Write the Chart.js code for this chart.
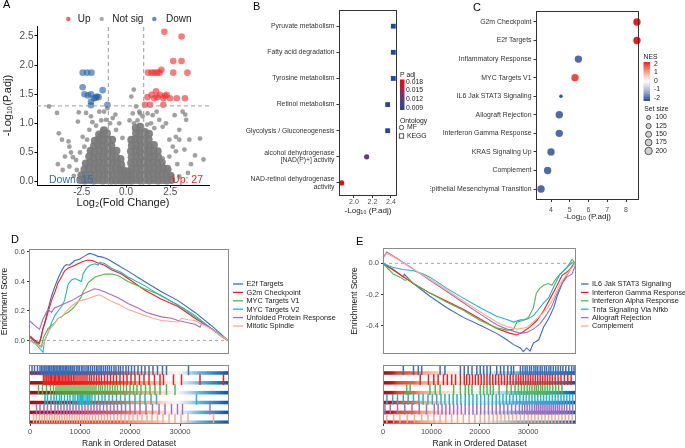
<!DOCTYPE html>
<html>
<head>
<meta charset="utf-8">
<script src="https://cdn.jsdelivr.net/npm/chart.js@4.4.1/dist/chart.umd.min.js"></script>
<style>
html,body{margin:0;padding:0;background:#fff;}
#fig{position:relative;width:685px;height:448px;overflow:hidden;background:#fff;}
#fig canvas{position:absolute;}
.tag{position:absolute;font:11px 'Liberation Sans',Arial,sans-serif;color:#000;line-height:1;}
</style>
</head>
<body>
<div id="fig">
<canvas id="cA" width="215" height="212" style="left:0px;top:0px"></canvas>
<canvas id="cB" width="225" height="220" style="left:205px;top:0px"></canvas>
<canvas id="cC" width="255" height="222" style="left:430px;top:0px"></canvas>
<canvas id="cD1" width="345" height="135" style="left:0px;top:225px"></canvas>
<canvas id="cD2" width="345" height="90" style="left:0px;top:358px"></canvas>
<canvas id="cE1" width="345" height="135" style="left:340px;top:225px"></canvas>
<canvas id="cE2" width="345" height="90" style="left:340px;top:358px"></canvas>
<div class="tag" style="left:3px;top:-1px">A</div>
<div class="tag" style="left:253px;top:1px">B</div>
<div class="tag" style="left:473px;top:2px">C</div>
<div class="tag" style="left:11px;top:234px">D</div>
<div class="tag" style="left:356px;top:236px">E</div>
</div>
<script>
// ===================== DATA =====================
// Panel A: volcano (log2 fold change, -log10 adj p) — dense body of non-significant genes
const volcNotSigCore = [
 [-2.58,0.03],[-2.52,0.11],
 [-2.33,0.02],[-2.28,0.12],[-2.35,0.21],[-2.27,0.31],
 [-2.07,0.03],[-2.02,0.13],[-2.1,0.22],[-2.03,0.33],[-2.08,0.43],[-2.0,0.53],
 [-1.82,0.02],[-1.78,0.11],[-1.84,0.21],[-1.77,0.31],[-1.83,0.41],[-1.79,0.51],[-1.81,0.61],[-1.76,0.7],
 [-1.57,0.03],[-1.52,0.13],[-1.58,0.23],[-1.53,0.33],[-1.56,0.43],[-1.51,0.53],[-1.58,0.63],[-1.54,0.73],[-1.52,0.81],
 [-1.32,0.02],[-1.27,0.12],[-1.33,0.22],[-1.28,0.32],[-1.31,0.42],[-1.26,0.52],[-1.33,0.62],[-1.29,0.72],[-1.31,0.82],[-1.25,0.88],
 [-1.07,0.03],[-1.03,0.13],[-1.08,0.23],[-1.02,0.33],[-1.06,0.43],[-1.01,0.53],[-1.07,0.63],[-1.04,0.73],[-1.08,0.83],
 [-0.82,0.02],[-0.78,0.12],[-0.83,0.22],[-0.77,0.32],[-0.81,0.42],[-0.79,0.52],[-0.83,0.62],[-0.78,0.72],
 [-0.57,0.02],[-0.53,0.12],[-0.58,0.22],[-0.52,0.32],[-0.56,0.42],[-0.54,0.53],
 [-0.32,0.02],[-0.28,0.11],[-0.33,0.2],[-0.27,0.29],[-0.31,0.39],
 [-0.14,0.02],[-0.1,0.1],[-0.15,0.19],
 [0.1,0.02],[0.14,0.1],[0.12,0.18],
 [0.31,0.02],[0.28,0.12],[0.33,0.22],[0.29,0.32],[0.32,0.42],[0.28,0.52],[0.33,0.62],[0.3,0.72],
 [0.56,0.03],[0.53,0.13],[0.58,0.23],[0.52,0.33],[0.57,0.43],[0.54,0.53],[0.58,0.63],[0.53,0.73],[0.57,0.83],[0.55,0.92],
 [0.81,0.02],[0.78,0.12],[0.83,0.22],[0.77,0.32],[0.82,0.42],[0.79,0.52],[0.83,0.62],[0.78,0.72],[0.81,0.82],[0.8,0.94],
 [1.06,0.03],[1.03,0.13],[1.08,0.23],[1.02,0.33],[1.07,0.43],[1.04,0.53],[1.08,0.63],[1.03,0.73],[1.06,0.85],
 [1.31,0.02],[1.28,0.12],[1.33,0.22],[1.27,0.32],[1.32,0.42],[1.29,0.52],[1.33,0.62],[1.28,0.72],[1.3,0.82],
 [1.56,0.03],[1.53,0.13],[1.58,0.23],[1.52,0.33],[1.57,0.43],[1.54,0.53],[1.58,0.63],
 [1.81,0.02],[1.78,0.12],[1.83,0.22],[1.77,0.32],[1.82,0.42],[1.79,0.52],
 [2.06,0.03],[2.03,0.13],[2.08,0.23],[2.02,0.33],
 [2.31,0.02],[2.28,0.12],[2.33,0.22],
 [2.56,0.03],[2.52,0.1]
];
// scattered non-significant genes
const volcNotSig = [
 [-4.35,1.29],[-3.9,1.18],[-3.8,0.83],[-3.62,0.72],[-3.25,0.69],[-3.2,0.6],[-3.45,0.43],[-3.11,0.5],[-3.0,0.42],
 [-2.82,0.37],[-3.2,0.26],[-3.58,0.2],[-2.78,0.2],[-2.67,1.19],[-2.72,1.03],[-2.26,1.18],[-1.98,1.12],[-1.51,1.2],
 [-1.24,1.2],[-1.05,1.26],[-1.69,0.96],[-2.07,0.89],[-2.45,0.77],[-2.35,0.6],[-2.6,0.5],[-1.13,1.06],[-0.75,1.09],
 [-0.38,1.0],[-0.56,0.89],[-0.2,0.75],[-0.9,1.0],[-1.4,1.05],[-1.9,1.02],[-2.2,0.72],[-0.6,1.15],[-3.85,0.3],[-2.95,0.1],
 [0.44,1.58],[0.3,1.46],[0.38,1.17],[0.57,1.29],[0.75,1.2],[0.94,1.12],[0.2,1.05],[0.45,1.0],[0.65,1.05],[1.22,1.17],
 [1.51,1.14],[1.88,1.06],[1.41,1.0],[2.07,0.94],[2.26,1.0],[1.6,0.92],[1.2,0.98],[3.2,1.2],[3.35,1.15],[3.01,0.89],
 [2.82,0.77],[2.45,0.72],[2.64,0.6],[3.01,0.72],[3.58,0.72],[2.45,0.43],[2.82,0.52],[2.07,0.4],[3.67,0.3],[2.45,0.2],
 [3.01,0.09],[4.18,0.74],[4.38,0.38],[3.9,0.45],[3.3,0.55],[2.9,0.3],[3.5,0.15],[2.75,1.14],[3.4,1.06],[1.73,1.2],[0.79,1.17]
];
const volcUp = [
 [2.17,2.57],[3.14,2.49],[2.67,2.07],[3.14,2.07],[2.0,1.92],[1.25,1.87],[1.45,1.87],[1.6,1.87],[1.75,1.87],
 [1.9,1.87],[2.67,1.87],[3.47,1.87],[1.21,1.45],[1.45,1.49],[1.6,1.43],[1.77,1.45],[1.92,1.49],[2.11,1.43],
 [2.3,1.49],[2.49,1.43],[2.87,1.43],[3.33,1.43],[1.07,1.32],[1.36,1.32],[2.11,1.32],[1.7,1.55],[2.2,1.47]
];
const volcDown = [
 [-2.45,1.87],[-2.2,1.87],[-1.95,1.87],[-2.45,1.62],[-2.35,1.5],[-2.15,1.48],[-1.98,1.5],[-1.8,1.43],
 [-1.65,1.46],[-1.55,1.45],[-1.32,1.57],[-1.98,1.37],[-1.98,1.31],[-1.05,1.32],[-1.72,1.44]
];
const volcXTicks = [-2.5, 0, 2.5];
const volcYTicks = [0, 0.5, 1, 1.5, 2, 2.5];
const fcCutoff = 1;
const padjCutoff = 1.3;

// Panel B: enrichment (KEGG / MF)
const bTerms = ['Pyruvate metabolism','Fatty acid degradation','Tyrosine metabolism','Retinol metabolism',
  'Glycolysis / Gluconeogenesis',['alcohol dehydrogenase','[NAD(P)+] activity'],['NAD-retinol dehydrogenase','activity']];
const bLogP = [2.425, 2.425, 2.425, 2.364, 2.364, 2.137, 1.867];
const bPadj = [0.0084, 0.0084, 0.0084, 0.0092, 0.0092, 0.0125, 0.0185];
const bOntology = ['KEGG','KEGG','KEGG','KEGG','KEGG','MF','MF'];
const bXTicks = [2.0, 2.2, 2.4];
const bPadjTicks = [0.018, 0.015, 0.012, 0.009];

// Panel C: hallmark GSEA
const cTerms = ['G2m Checkpoint','E2f Targets','Inflammatory Response','MYC Targets V1','IL6 Jak STAT3 Signaling',
  'Allograft Rejection','Interferon Gamma Response','KRAS Signaling Up','Complement','Epithelial Mesenchymal Transition'];
const cLogP = [8.58, 8.58, 5.46, 5.28, 4.53, 4.44, 4.44, 4.0, 3.82, 3.47];
const cNES = [2.3, 2.3, -2.0, 1.9, -2.3, -2.0, -2.0, -2.0, -2.0, -2.0];
const cSetSize = [200, 200, 200, 200, 87, 200, 200, 200, 200, 200];
const cXTicks = [4, 5, 6, 7, 8];
const cNesTicks = [2, 1, 0, -1, -2];
const cSizeTicks = [100, 125, 150, 175, 200];

// Panels D/E: running enrichment scores [rank, ES]
const rankTicks = [0, 10000, 20000, 30000];
const dNames = ['E2f Targets','G2m Checkpoint','MYC Targets V1','MYC Targets V2','Unfolded Protein Response','Mitotic Spindle'];
const dEsE2f = [[0,0.02],[700,0.0],[1600,-0.02],[2000,0.0],[2600,0.08],[3100,0.14],[3600,0.21],[4300,0.30],[4900,0.36],[5600,0.42],[6300,0.47],[6800,0.50],[7300,0.515],[7900,0.51],[8400,0.525],[8900,0.54],[9900,0.55],[10600,0.565],[11300,0.58],[11900,0.59],[12600,0.585],[13600,0.57],[14500,0.565],[15600,0.55],[17600,0.51],[19600,0.47],[22900,0.40],[26300,0.33],[29600,0.27],[33000,0.19],[36300,0.10],[39600,0.0]];
const dEsG2m = [[0,0.03],[1000,0.0],[1900,-0.02],[2300,0.03],[2600,0.08],[3000,0.12],[3600,0.19],[4300,0.27],[5000,0.33],[5600,0.39],[6300,0.43],[6900,0.47],[7600,0.49],[8300,0.50],[9000,0.51],[9600,0.52],[10600,0.535],[11600,0.545],[12600,0.54],[13600,0.525],[14900,0.51],[16300,0.48],[18300,0.45],[19600,0.42],[23000,0.34],[26300,0.28],[29600,0.23],[33000,0.15],[36300,0.08],[38600,0.02],[39600,0.0]];
const dEsMycV1 = [[0,0.0],[1300,-0.02],[2300,-0.04],[2700,0.02],[3600,0.08],[4300,0.10],[5000,0.12],[5600,0.15],[6300,0.16],[7000,0.18],[7600,0.19],[8300,0.21],[8900,0.23],[9600,0.26],[10300,0.30],[10600,0.33],[11200,0.36],[11600,0.39],[12300,0.41],[13000,0.43],[14000,0.44],[15000,0.45],[16300,0.45],[17600,0.44],[19600,0.40],[22900,0.35],[26000,0.31],[28000,0.27],[30600,0.22],[33000,0.17],[36300,0.08],[39600,0.0]];
const dEsMycV2 = [[0,0.0],[1300,-0.03],[2600,-0.08],[2900,0.0],[3600,0.05],[4300,0.12],[5000,0.17],[5600,0.20],[6300,0.23],[6900,0.27],[7300,0.33],[7600,0.38],[8300,0.41],[9000,0.42],[9600,0.41],[10300,0.40],[10600,0.45],[11300,0.49],[12000,0.51],[13000,0.52],[13600,0.51],[14000,0.53],[15000,0.52],[16300,0.49],[18300,0.46],[19600,0.43],[23000,0.37],[26300,0.30],[29600,0.24],[33000,0.16],[36300,0.08],[39600,0.0]];
const dEsUpr = [[0,0.13],[1000,0.10],[1900,0.075],[2600,0.145],[3600,0.21],[4300,0.19],[4900,0.22],[6300,0.24],[8300,0.27],[10900,0.32],[12900,0.35],[13600,0.345],[14900,0.33],[17600,0.29],[19600,0.25],[21600,0.22],[23300,0.19],[26300,0.16],[28300,0.15],[29600,0.135],[31600,0.12],[33000,0.11],[34000,0.09],[34400,0.12],[35500,0.10],[37000,0.06],[39600,0.0]];
const dEsMitotic = [[0,0.0],[1300,-0.03],[2300,-0.05],[3000,0.0],[3600,0.06],[4600,0.10],[5600,0.15],[6600,0.17],[7600,0.21],[8600,0.24],[9600,0.265],[11300,0.28],[12900,0.30],[13900,0.31],[15000,0.29],[16300,0.265],[18000,0.24],[19600,0.21],[21300,0.19],[22900,0.17],[24600,0.15],[26300,0.135],[28000,0.13],[29600,0.125],[30300,0.15],[31600,0.14],[33000,0.135],[34300,0.11],[35600,0.09],[37000,0.06],[39600,0.0]];
const dYTicks = [0, 0.2, 0.4, 0.6];
// gene-set hit positions (rank)
const dHitsE2f = [400,900,1500,2000,2300,2600,2900,3200,3400,3700,3900,4200,4400,4700,4900,5200,5400,5600,5900,6100,6400,6600,6800,7100,7300,7600,7800,8100,8400,8600,8900,9300,9600,9900,10300,10600,11000,11400,11700,12100,12500,12900,13300,13600,14000,14300,14700,15100,15500,15900,16300,16800,17200,17700,18100,18600,19200,19700,20300,20900,21600,22300,23000,23800,24600,25500,26500,27300,31700];
const dHitsG2m = [2700,3000,3300,3600,3800,4100,4300,4600,4900,5100,5400,5700,5900,6200,6500,6800,7100,7400,7700,8000,8300,8700,9000,9400,9800,10200,10600,11000,11400,11900,12300,12800,13300,13800,14300,14900,15500,16100,16700,17300,18000,18700,19400,20200,21000,21900,22800,23800,24900,26000,26700,28700,30300,34000,38700];
const dHitsMycV1 = [1700,2500,3300,4100,4700,5200,5600,6000,6400,6800,7200,7600,8000,8400,8800,9200,9600,10000,10400,10800,11200,11600,12000,12400,12800,13200,13700,14100,14500,15000,15500,16000,16500,17000,17500,18100,18700,19300,20000,20700,21400,22200,23100,24000,25000,26000,27300,29000];
const dHitsMycV2 = [3000,3500,4200,4800,5300,5900,6300,6900,7500,8000,8600,9000,9500,9800,10100,10300,10500,10800,11200,11500,11800,12000,12400,13000,13700,14400,15000,15800,16500,17300,18100,19000,19900,21000,22000,23000,24200,25300,33300];
const dHitsUpr = [1300,2000,2800,3500,4200,5000,5600,6200,6800,7400,8000,8600,9200,9800,10400,11000,11600,12200,12800,13400,14000,14700,15400,16100,16800,17500,18300,19100,20000,21000,22000,23200,24500,25800,27000,28300,29500,30500,36000];
const dHitsMitotic = [700,1300,1900,2400,2900,3400,3900,4400,4900,5400,5900,6400,6900,7400,7900,8400,8900,9400,9900,10400,10900,11400,11900,12500,13100,13700,14300,14900,15500,16100,16800,17500,18200,19000,19800,20600,21500,22400,23400,24400,25500,26600,27800,29000,30200,31600,36700];

const eNames = ['IL6 Jak STAT3 Signaling','Interferon Gamma Response','Interferon Alpha Response','Tnfa Signaling Via Nfkb','Allograft Rejection','Complement'];
const eEsIl6 = [[0,-0.006],[2100,-0.037],[4200,-0.088],[4400,-0.07],[6300,-0.129],[9700,-0.21],[13200,-0.283],[16600,-0.345],[20100,-0.396],[23500,-0.447],[25600,-0.488],[27000,-0.519],[28400,-0.54],[29000,-0.564],[29700,-0.54],[30400,-0.56],[31100,-0.509],[32200,-0.488],[33200,-0.406],[34200,-0.355],[35300,-0.283],[36000,-0.21],[37300,-0.109],[38400,-0.057],[39100,-0.016],[39700,0.004]];
const eEsIfng = [[0,0.0],[2800,-0.057],[6300,-0.129],[9700,-0.19],[13200,-0.242],[16600,-0.293],[20100,-0.355],[23500,-0.416],[26300,-0.447],[27700,-0.457],[29000,-0.437],[30400,-0.406],[31800,-0.365],[33200,-0.303],[34600,-0.222],[36000,-0.14],[37000,-0.078],[38400,-0.047],[39700,0.0]];
const eEsIfna = [[0,0.0],[2100,-0.068],[3500,-0.088],[4600,-0.109],[5200,-0.098],[6300,-0.129],[9700,-0.19],[13200,-0.248],[16600,-0.30],[20100,-0.365],[23500,-0.412],[25600,-0.426],[27000,-0.42],[27700,-0.375],[29000,-0.365],[30100,-0.344],[31100,-0.283],[31700,-0.19],[32400,-0.16],[33200,-0.14],[34200,-0.129],[34900,-0.14],[36000,-0.088],[37000,-0.057],[38000,-0.027],[39100,0.025],[39700,0.0]];
const eEsTnfa = [[0,0.0],[2100,-0.027],[4200,-0.039],[6300,-0.047],[8300,-0.068],[9700,-0.088],[13200,-0.16],[16600,-0.222],[20100,-0.283],[23500,-0.338],[25600,-0.359],[27000,-0.375],[28400,-0.361],[29700,-0.359],[31100,-0.334],[32200,-0.293],[33200,-0.252],[34200,-0.222],[35300,-0.15],[36600,-0.068],[38000,-0.027],[39100,0.004],[39700,0.0]];
const eEsAllograft = [[0,0.035],[760,0.072],[2800,0.035],[6300,-0.037],[9700,-0.109],[13200,-0.18],[16600,-0.252],[20100,-0.324],[23500,-0.392],[25600,-0.42],[28400,-0.447],[29700,-0.441],[31100,-0.42],[32500,-0.385],[33900,-0.324],[34900,-0.273],[36000,-0.19],[37000,-0.129],[38000,-0.088],[39100,-0.068],[39700,-0.016]];
const eEsComplement = [[0,0.03],[760,0.065],[2800,0.03],[6300,-0.04],[9700,-0.10],[13200,-0.17],[16600,-0.24],[20100,-0.31],[23500,-0.375],[25600,-0.405],[27700,-0.42],[29700,-0.41],[31800,-0.355],[33900,-0.29],[35300,-0.22],[36600,-0.13],[38000,-0.07],[39700,0.0]];
const eYTicks = [0, -0.2, -0.4];
const eHitsIl6 = [4200,6300,7300,8000,11800,12800,16000,16800,17600,18400,19400,20100,20800,21500,22200,23500,24300,25000,25800,26500,27000,28400,28900,29400,29800,30300,30700,31200,31600,32000,32500,32900,33400,33800,34300,34700,35200,35700,36200,36700,37200,37800,38400,39000,39500];
const eHitsIfng = [7700,9400,10500,11400,12500,13300,14200,15000,16000,16800,17300,17900,18500,19100,19700,20300,20900,21500,22100,22700,23300,23900,24500,25100,25700,26300,26900,27500,28000,28500,29000,29500,30000,30500,31000,31500,32000,32500,33000,33500,34000,34500,35000,35600,36200,36800,37500,38200,38900];
const eHitsIfna = [4900,5600,9700,10800,11800,14600,16000,17000,17700,18400,20100,20800,21500,22200,22800,24000,25600,26500,27300,28000,28600,29200,29800,30300,30800,31300,31700,32100,32600,33000,33500,34000,34500,35100,35700,36300,37000];
const eHitsTnfa = [800,2000,3000,4200,5200,6300,7400,8300,9300,10200,11100,12000,12800,13700,14500,15300,16100,17000,17800,18600,19400,20200,21000,21800,22600,23400,24100,24800,25500,26200,26900,27600,28300,29000,29600,30200,30800,31400,32000,32600,33200,33800,34400,35000,35600,36200,36800,37400,38000,38600,39200];
const eHitsAllograft = [400,1500,3000,4500,6000,7500,9000,10600,11400,12200,13000,13800,14600,15400,16200,17000,17800,18600,19400,20200,21000,21800,22600,23400,24200,25000,25800,26600,27400,28200,28800,29300,29800,30300,30800,31300,31700,32100,32500,32900,33300,33700,34100,34500,34900,35300,35700,36100,36500,37000,37500,38000,38600,39200];
const eHitsComplement = [800,2200,3500,5000,6500,8000,9300,10500,11800,13000,14200,15400,16600,17800,19000,20100,21000,21900,22800,23600,24400,25200,26000,26800,27600,28400,29200,30000,30700,31400,32100,32800,33500,34200,34900,35600,36300,37000,37700,38400,39100];

// ===================== STYLE / HELPERS =====================
const FONT = "'Liberation Sans', Arial, Helvetica, sans-serif";
Chart.defaults.font.family = FONT;
Chart.defaults.color = '#4d4d4d';
Chart.defaults.animation = false;
Chart.defaults.responsive = false;
Chart.defaults.maintainAspectRatio = false;
Chart.defaults.events = [];
Chart.defaults.plugins.legend.display = false;
Chart.defaults.plugins.tooltip.enabled = false;

const setColors = ['#3a6db5','#f01f1f','#52b848','#25b2cf','#a56cc1','#fcab8a'];
const pts = arr => arr.map(p => ({x: p[0], y: p[1]}));
const fixW = w => s => { s.width = w; };
const fixH = h => s => { s.height = h; };
const useTicks = vals => s => { s.ticks = vals.map(v => ({value: v})); };

function axis(o) {
  return {
    type: 'linear', min: o.min, max: o.max, reverse: !!o.reverse, display: o.display !== false,
    afterFit: o.fit, afterBuildTicks: o.at ? useTicks(o.at) : undefined,
    grid: {drawOnChartArea: false, drawTicks: true, tickLength: o.tl ?? 2.5, color: o.lc || '#333', lineWidth: 1},
    border: {display: o.border !== false, color: o.lc || '#333', width: 1},
    ticks: {autoSkip: false, maxRotation: 0, minRotation: 0, padding: o.pad ?? 1, color: o.tcol || '#4d4d4d',
            font: {size: o.fs, lineHeight: o.lh || 1.1}, callback: o.cb},
    title: o.title ? {display: true, text: o.title, color: '#1a1a1a', font: {size: o.tfs, lineHeight: o.tlh || 1.2}, padding: o.tpad || 0} : {display: false}
  };
}
function frame(id, color) {
  return {id, afterDatasetsDraw(c) {
    const a = c.chartArea, g = c.ctx;
    g.save(); g.strokeStyle = color; g.lineWidth = 1;
    g.strokeRect(Math.round(a.left) + 0.5, Math.round(a.top) + 0.5, Math.round(a.right - a.left) - 1, Math.round(a.bottom - a.top) - 1);
    g.restore();
  }};
}
function lerpStops(stops, t) {
  t = Math.max(0, Math.min(1, t));
  for (let i = 1; i < stops.length; i++) {
    if (t <= stops[i][0]) {
      const [t0, c0] = stops[i - 1], [t1, c1] = stops[i];
      const u = (t - t0) / (t1 - t0);
      return 'rgb(' + c0.map((v, k) => Math.round(v + (c1[k] - v) * u)).join(',') + ')';
    }
  }
  return 'rgb(' + stops[stops.length - 1][1].join(',') + ')';
}
const padjStops = [[0,[28,72,160]],[0.5,[115,55,115]],[1,[255,0,0]]];
const padjLo = 0.0082, padjHi = 0.0188;
const padjColor = p => lerpStops(padjStops, (p - padjLo) / (padjHi - padjLo));
const nesPos = [[0,[255,255,255]],[0.5,[246,150,120]],[1,[230,20,20]]];
const nesNeg = [[0,[255,255,255]],[0.5,[160,175,210]],[1,[25,60,140]]];
const nesColor = n => n >= 0 ? lerpStops(nesPos, n / 2.4) : lerpStops(nesNeg, -n / 2.5);
const sizeR = s => 3.7 * Math.sqrt(Math.max(0, s - 55) / 145);

// ===================== PANEL A =====================
const aX = {min: -5.03, max: 4.69}, aY = {min: -0.057, max: 2.67};
new Chart(document.getElementById('cA'), {
  type: 'scatter',
  data: {datasets: [
    {label: 'vl', data: [{x: -fcCutoff, y: aY.min}, {x: -fcCutoff, y: aY.max}], showLine: true, borderColor: '#9a9a9a', borderWidth: 1, borderDash: [4, 3], pointRadius: 0, order: 0},
    {label: 'vr', data: [{x: fcCutoff, y: aY.min}, {x: fcCutoff, y: aY.max}], showLine: true, borderColor: '#9a9a9a', borderWidth: 1, borderDash: [4, 3], pointRadius: 0, order: 0},
    {label: 'h', data: [{x: aX.min, y: padjCutoff}, {x: aX.max, y: padjCutoff}], showLine: true, borderColor: '#9a9a9a', borderWidth: 1, borderDash: [4, 3], pointRadius: 0, order: 0},
    {label: 'Up', data: pts(volcUp), pointRadius: 3.3, pointBackgroundColor: 'rgba(240,45,45,0.62)', pointBorderWidth: 0, order: 1},
    {label: 'Down', data: pts(volcDown), pointRadius: 3.3, pointBackgroundColor: 'rgba(35,95,170,0.62)', pointBorderWidth: 0, order: 1},
    {label: 'Not sig', data: pts(volcNotSig), pointRadius: 2.4, pointBackgroundColor: 'rgba(125,125,125,0.72)', pointBorderWidth: 0, order: 2},
    {label: 'Not sig (dense)', data: pts(volcNotSigCore), pointRadius: 4.0, pointBackgroundColor: 'rgba(122,122,122,0.92)', pointBorderWidth: 0, order: 3}
  ]},
  options: {
    layout: {padding: {left: 0, top: 26, right: 6, bottom: 0}},
    scales: {
      x: axis({min: aX.min, max: aX.max, at: volcXTicks, fit: fixH(27), fs: 10, lh: 1, pad: 0, lc: '#000', cb: v => v.toFixed(1),
               title: 'Log\u2082(Fold Change)', tfs: 11, tpad: {top: 0, bottom: 2.4}}),
      y: axis({min: aY.min, max: aY.max, at: volcYTicks, fit: fixW(37), fs: 10, lh: 1, pad: 1, lc: '#000', cb: v => v.toFixed(1),
               title: '-Log\u2081\u2080(P.adj)', tfs: 11, tpad: {top: 1, bottom: 0}})
    }
  },
  plugins: [{id: 'aDeco', afterDraw(c) {
    const g = c.ctx, xs = c.scales.x;
    g.save();
    g.font = '10px ' + FONT; g.textBaseline = 'middle';
    [['Up', 'rgba(240,60,60,0.8)', 68.3, 77.7], ['Not sig', 'rgba(150,150,150,0.8)', 101.7, 112.3], ['Down', 'rgba(60,110,180,0.8)', 154.3, 166]]
      .forEach(([t, col, cx, tx]) => {
        g.fillStyle = col; g.beginPath(); g.arc(cx, 19, 2.2, 0, Math.PI * 2); g.fill();
        g.fillStyle = '#1a1a1a'; g.fillText(t, tx, 19.5);
      });
    g.font = '10.5px ' + FONT;
    g.fillStyle = '#2d6db4'; g.textAlign = 'left';
    g.fillText('Down: ' + volcDown.length, xs.getPixelForValue(-4.35), 179.8);
    g.fillStyle = '#f02020'; g.textAlign = 'right';
    g.fillText('Up: ' + volcUp.length, xs.getPixelForValue(4.35), 179.8);
    g.restore();
  }}]
});

// ===================== PANEL B =====================
new Chart(document.getElementById('cB'), {
  type: 'scatter',
  data: {datasets: [{
    data: bTerms.map((t, i) => ({x: bLogP[i], y: i})),
    pointStyle: bOntology.map(o => o === 'KEGG' ? 'rect' : 'circle'),
    pointRadius: bOntology.map(o => o === 'KEGG' ? 3.4 : 2.6),
    pointBackgroundColor: bPadj.map(padjColor), pointBorderWidth: 0, clip: false
  }]},
  options: {
    layout: {padding: {left: 0, top: 10, right: 33, bottom: 0}},
    scales: {
      x: axis({min: 1.838, max: 2.465, at: bXTicks, fit: fixH(24), fs: 7, pad: 0, tl: 2, border: false, cb: v => v.toFixed(1),
               title: '-Log\u2081\u2080 (P.adj)', tfs: 8, tpad: {top: 0, bottom: 4.2}}),
      y: axis({min: -0.62, max: 6.5, reverse: true, at: bTerms.map((t, i) => i), fit: fixW(134), fs: 6.8, pad: 2, tl: 2.5, border: false,
               tcol: '#333', cb: v => bTerms[v]})
    }
  },
  plugins: [frame('bFrame', '#333'), {id: 'bLegend', afterDraw(c) {
    const g = c.ctx, ox = 205;
    const bx = 400 - ox, bw = 4.5, top = 79.5, bot = 110;
    const grad = g.createLinearGradient(0, top, 0, bot);
    grad.addColorStop(0, padjColor(padjHi)); grad.addColorStop(0.5, padjColor((padjHi + padjLo) / 2)); grad.addColorStop(1, padjColor(padjLo));
    g.save();
    g.fillStyle = grad; g.fillRect(bx, top, bw, bot - top);
    g.font = '6.8px ' + FONT; g.fillStyle = '#1a1a1a'; g.textBaseline = 'middle'; g.textAlign = 'left';
    g.fillText('P adj', bx, 75);
    bPadjTicks.forEach(v => g.fillText(v.toFixed(3), bx + bw + 1.5, top + (padjHi - v) / (padjHi - padjLo) * (bot - top)));
    g.fillText('Ontology', bx, 121);
    g.strokeStyle = '#333'; g.lineWidth = 0.8;
    g.beginPath(); g.arc(401.5 - ox, 127.5, 2.2, 0, Math.PI * 2); g.stroke();
    g.strokeRect(399.3 - ox, 133.8, 4.4, 4.4);
    g.fillText('MF', 407 - ox, 127.5);
    g.fillText('KEGG', 407 - ox, 136.2);
    g.restore();
  }}]
});

// ===================== PANEL C =====================
new Chart(document.getElementById('cC'), {
  type: 'scatter',
  data: {datasets: [{
    data: cTerms.map((t, i) => ({x: cLogP[i], y: i})),
    pointRadius: cSetSize.map(sizeR), pointBackgroundColor: cNES.map(nesColor), pointBorderWidth: 0, clip: false
  }]},
  options: {
    layout: {padding: {left: 0, top: 11, right: 46, bottom: 0}},
    scales: {
      x: axis({min: 3.2, max: 8.69, at: cXTicks, fit: fixH(22), fs: 7, pad: 4, tl: 2, border: false, cb: v => String(v),
               title: '-Log\u2081\u2080 (P.adj)', tfs: 8, tpad: {top: 0, bottom: 0}}),
      y: axis({min: -0.59, max: 9.59, reverse: true, at: cTerms.map((t, i) => i), fit: fixW(106), fs: 6.9, pad: 2, tl: 2.5, border: false,
               tcol: '#333', cb: v => cTerms[v]})
    }
  },
  plugins: [frame('cFrame', '#333'), {id: 'cLegend', afterDraw(c) {
    const g = c.ctx, ox = 430;
    const bx = 643.5 - ox, bw = 6.5, top = 62, bot = 101, zeroY = 81, per = 8.5;
    const grad = g.createLinearGradient(0, top, 0, bot);
    for (let k = 0; k <= 10; k++) { const n = (zeroY - (top + k * (bot - top) / 10)) / per; grad.addColorStop(k / 10, nesColor(n)); }
    g.save();
    g.fillStyle = grad; g.fillRect(bx, top, bw, bot - top);
    g.font = '6.8px ' + FONT; g.fillStyle = '#1a1a1a'; g.textBaseline = 'middle'; g.textAlign = 'left';
    g.fillText('NES', bx, 57.5);
    cNesTicks.forEach(v => g.fillText(String(v), 654 - ox, zeroY - v * per));
    g.fillText('Set size', 644.3 - ox, 109.3);
    const ys = [117.5, 126, 134.3, 142.5, 151];
    cSizeTicks.forEach((s, k) => {
      g.fillStyle = '#d0d0d0'; g.strokeStyle = '#333'; g.lineWidth = 0.8;
      g.beginPath(); g.arc(648.6 - ox, ys[k], sizeR(s), 0, Math.PI * 2); g.fill(); g.stroke();
      g.fillStyle = '#1a1a1a'; g.fillText(String(s), 655.5 - ox, ys[k]);
    });
    g.restore();
  }}]
});

// ===================== PANELS D / E =====================
function esLegend(id, names, colors, lx0, lx1, tx) {
  return {id, afterDraw(c) {
    const g = c.ctx;
    g.save(); g.font = '7.3px ' + FONT; g.textBaseline = 'middle'; g.textAlign = 'left';
    names.forEach((n, i) => {
      const y = 59 + i * 8.4;
      g.strokeStyle = colors[i]; g.lineWidth = 1.3;
      g.beginPath(); g.moveTo(lx0, y); g.lineTo(lx1, y); g.stroke();
      g.fillStyle = '#1a1a1a'; g.fillText(n, tx, y + 0.3);
    });
    g.restore();
  }};
}
function rankBands(id, stops, frac) {
  return {id, beforeDatasetsDraw(c) {
    const xs = c.scales.x, ys = c.scales.y, g = c.ctx, a = c.chartArea;
    const x0 = xs.getPixelForValue(stops[0][0]), x1 = xs.getPixelForValue(stops[stops.length - 1][0]);
    const grad = g.createLinearGradient(x0, 0, x1, 0);
    stops.forEach(([r, col]) => grad.addColorStop(Math.max(0, Math.min(1, (xs.getPixelForValue(r) - x0) / (x1 - x0))), col));
    g.save(); g.fillStyle = grad;
    for (let i = 0; i < 6; i++) {
      const yt = ys.getPixelForValue(i + 1 - frac), yb = ys.getPixelForValue(i + 1);
      g.fillRect(a.left, yt, a.right - a.left, yb - yt);
    }
    g.restore();
  }};
}
function esChart(id, curves, names, xr, yr, yTicks, pad, yW, legendX) {
  const ds = curves.map((cv, i) => ({label: names[i], data: pts(cv), showLine: true, borderColor: setColors[i], borderWidth: 1.1,
    pointRadius: 0, order: 10 - i}));
  ds.push({label: 'zero', data: [{x: xr[0], y: 0}, {x: xr[1], y: 0}], showLine: true, borderColor: '#a8a8a8', borderWidth: 1,
    borderDash: [3, 3], pointRadius: 0, order: 50});
  new Chart(document.getElementById(id), {
    type: 'scatter', data: {datasets: ds},
    options: {
      layout: {padding: pad},
      scales: {
        x: axis({min: xr[0], max: xr[1], display: false}),
        y: axis({min: yr[0], max: yr[1], at: yTicks, fit: fixW(yW), fs: 7.5, pad: 2, tl: 2, border: false, cb: v => v.toFixed(1),
                 title: 'Enrichment Score', tfs: 8.5, tpad: {top: 0, bottom: 0}})
      }
    },
    plugins: [frame(id + 'F', '#8a8a8a'), esLegend(id + 'L', names, setColors, legendX[0], legendX[1], legendX[2])]
  });
}
function rugChart(id, hits, xr, pad, stops) {
  const ds = hits.map((h, i) => ({data: h.map(r => ({x: r, y: i + 0.5})), pointStyle: 'line', pointRotation: 90, pointRadius: 5.4,
    pointBorderColor: setColors[i], pointBackgroundColor: setColors[i], pointBorderWidth: 1.5}));
  new Chart(document.getElementById(id), {
    type: 'scatter', data: {datasets: ds},
    options: {
      layout: {padding: pad},
      scales: {
        x: axis({min: xr[0], max: xr[1], at: rankTicks, fit: fixH(24), fs: 7.5, pad: 2, tl: 2, border: false, cb: v => String(v),
                 title: 'Rank in Ordered Dataset', tfs: 8.5, tlh: 1, tpad: {top: 0, bottom: 0}}),
        y: axis({min: 0, max: 6, reverse: true, display: false})
      }
    },
    plugins: [rankBands(id + 'B', stops, 0.36), frame(id + 'F', '#8a8a8a')]
  });
}

const dStops = [[0,'#a50f15'],[8500,'#b51a20'],[11000,'#d32f25'],[18000,'#ea5a43'],[21000,'#fb9474'],[25000,'#fcbba1'],[27500,'#fde6dc'],[29500,'#f3f6fa'],[31500,'#c6dbef'],[34000,'#6baed6'],[37000,'#3182bd'],[39800,'#08519c']];
const eStops = [[0,'#a50f15'],[2000,'#c4161c'],[3000,'#de452f'],[6500,'#ef6548'],[7500,'#fc9272'],[10000,'#fcbba1'],[14000,'#fde5da'],[17000,'#f4f4f6'],[22000,'#dbe9f4'],[26000,'#9ecae1'],[28000,'#6baed6'],[35000,'#4292c6'],[38000,'#2171b5'],[39900,'#08519c']];

esChart('cD1', [dEsE2f, dEsG2m, dEsMycV1, dEsMycV2, dEsUpr, dEsMitotic], dNames, [-200, 39800], [-0.091, 0.62], dYTicks,
  {left: 0, top: 24, right: 116, bottom: 2}, 29, [233, 243, 246.5]);
rugChart('cD2', [dHitsE2f, dHitsG2m, dHitsMycV1, dHitsMycV2, dHitsUpr, dHitsMitotic], [-200, 39800],
  {left: 29, top: 1, right: 116, bottom: 0}, dStops);
esChart('cE1', [eEsIl6, eEsIfng, eEsIfna, eEsTnfa, eEsAllograft, eEsComplement], eNames, [0, 39900], [-0.578, 0.098], eYTicks,
  {left: 10, top: 23, right: 109, bottom: 2}, 33, [241, 248.5, 252]);
rugChart('cE2', [eHitsIl6, eHitsIfng, eHitsIfna, eHitsTnfa, eHitsAllograft, eHitsComplement], [0, 39900],
  {left: 43, top: 1, right: 109, bottom: 0}, eStops);
</script>
</body>
</html>
